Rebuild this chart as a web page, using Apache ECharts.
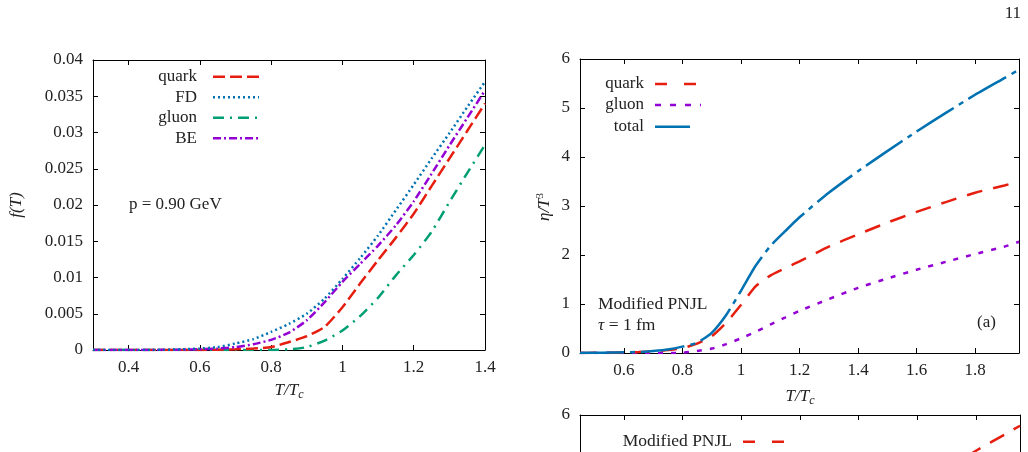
<!DOCTYPE html>
<html>
<head>
<meta charset="utf-8">
<script src="https://cdn.jsdelivr.net/npm/echarts@6/dist/echarts.min.js"></script>
<style>
html,body{margin:0;padding:0;background:#fff;}
#chart{width:1028px;height:452px;}
</style>
</head>
<body>
<div id="chart"></div>
<script>
// left panel: f(T) at p = 0.90 GeV
var tL     = [0.3,0.4,0.5,0.55,0.6,0.65,0.7,0.75,0.8,0.85,0.9,0.95,1.0,1.05,1.1,1.15,1.2,1.25,1.3,1.35,1.4];
var quarkL = [0,0,0,0,0,0.00003,0.0001,0.0002,0.0004,0.0011,0.0019,0.0032,0.0059,0.0092,0.0124,0.0155,0.0188,0.0226,0.0264,0.0302,0.034];
var fdL    = [0,0,0.00003,0.0001,0.0002,0.0004,0.0009,0.0015,0.0025,0.0036,0.005,0.0071,0.0098,0.0127,0.0158,0.0193,0.0228,0.0264,0.0299,0.0335,0.037];
var gluonL = [0,0,0,0,0,0,0,0,0,0.0001,0.0004,0.0013,0.0027,0.0047,0.0072,0.0103,0.0131,0.0163,0.0204,0.0244,0.0283];
var beL    = [0,0,0.00002,0.00005,0.0001,0.0002,0.0004,0.0008,0.0014,0.0024,0.0041,0.0066,0.0094,0.0119,0.0144,0.0172,0.0205,0.0243,0.0282,0.032,0.0358];
var ticksL = [0.4,0.6,0.8,1,1.2,1.4];

// right panel (a): eta/T^3
var tR     = [0.45,0.5,0.55,0.6,0.65,0.7,0.75,0.8,0.85,0.9,0.95,1.0,1.05,1.1,1.15,1.2,1.3,1.4,1.5,1.6,1.7,1.8,1.9,1.95];
var quarkR = [0,0.003,0.006,0.01,0.018,0.03,0.06,0.1,0.19,0.34,0.62,0.98,1.36,1.58,1.73,1.87,2.17,2.42,2.66,2.88,3.08,3.27,3.42,3.5];
var gluonR = [0,0,0,0,0,0,0,0.005,0.04,0.09,0.18,0.3,0.43,0.58,0.72,0.86,1.1,1.33,1.52,1.7,1.86,2.02,2.17,2.27];
var totalR = [0,0.005,0.01,0.015,0.02,0.04,0.07,0.13,0.21,0.41,0.78,1.27,1.78,2.18,2.48,2.77,3.27,3.71,4.12,4.52,4.9,5.27,5.61,5.78];
var ticksR = [0.6,0.8,1,1.2,1.4,1.6,1.8];

// lower panel, only its top strip is on the page; visible part follows the total curve
var pnjlB  = [0,0.005,0.01,0.015,0.02,0.04,0.07,0.13,0.21,0.41,0.78,1.27,1.78,2.18,2.48,2.77,3.27,3.71,4.12,4.52,4.9,5.27,5.61,5.78];

var FONT = 'Liberation Serif';
var TXT = '#222';

function pts(xs, ys){
  return xs.map(function(x, i){ return [x, ys[i]]; });
}

function xAx(grid, min, max, ticks, top, hideLine){
  return {
    type:'value', gridIndex:grid, min:min, max:max, position: top ? 'top' : 'bottom',
    axisLine:{show:!hideLine, onZero:false, lineStyle:{color:'#000', width:1}},
    axisTick:{show:!hideLine, inside:true, length:5, customValues:ticks, lineStyle:{color:'#000'}},
    axisLabel:{show:!top && !hideLine, customValues:ticks, margin:9, fontFamily:FONT, fontSize:17, color:TXT},
    splitLine:{show:false}
  };
}
function yAx(grid, min, max, ticks, right){
  return {
    type:'value', gridIndex:grid, min:min, max:max, position: right ? 'right' : 'left',
    axisLine:{show:true, onZero:false, lineStyle:{color:'#000', width:1}},
    axisTick:{show:true, inside:true, length:5, customValues:ticks, lineStyle:{color:'#000'}},
    axisLabel:{show:!right, customValues:ticks, margin:10, fontFamily:FONT, fontSize:17, color:TXT},
    splitLine:{show:false}
  };
}
function ln(xi, yi, data, color, dash){
  return {
    type:'line', xAxisIndex:xi, yAxisIndex:yi, data:data, symbol:'none',
    smooth:0.2,
    lineStyle:{color:color, width:2.5, type:dash}
  };
}
function txt(x, y, s, align, size){
  return {type:'text', x:x, y:y, style:{text:s, fill:TXT, font:(size||17)+'px "'+FONT+'"',
    textAlign:align||'left', textVerticalAlign:'middle'}};
}
function sample(x1, x2, y, color, dash){
  return {type:'line', shape:{x1:x1, y1:y, x2:x2, y2:y},
    style:{stroke:color, lineWidth:2.5, lineDash:dash}};
}

var RED = '#e51e10', BLUE = '#0072b2', GREEN = '#009e73', PURPLE = '#9400d3';
var yTicksL = [0,0.005,0.01,0.015,0.02,0.025,0.03,0.035,0.04];
var yTicksR = [0,1,2,3,4,5,6];
var TOTAL_DASH = [44,6,5,6];

var option = {
  animation:false,
  backgroundColor:'#fff',
  grid:[
    {left:93, top:60, width:392, height:290},
    {left:580, top:59, width:439, height:294},
    {left:580, top:415, width:440, height:37}
  ],
  xAxis:[
    xAx(0, 0.3, 1.4, ticksL, false), xAx(0, 0.3, 1.4, ticksL, true),
    xAx(1, 0.45, 1.95, ticksR, false), xAx(1, 0.45, 1.95, ticksR, true),
    xAx(2, 0.45, 1.95, ticksR, false, true), xAx(2, 0.45, 1.95, ticksR, true)
  ],
  yAxis:[
    yAx(0, 0, 0.04, yTicksL, false), yAx(0, 0, 0.04, yTicksL, true),
    yAx(1, 0, 6, yTicksR, false), yAx(1, 0, 6, yTicksR, true),
    yAx(2, 5.245, 6, [6], false), yAx(2, 5.245, 6, [6], true)
  ],
  series:[
    ln(0, 0, pts(tL, gluonL), GREEN, [11,6,2,6]),
    ln(0, 0, pts(tL, quarkL), RED, [12,5]),
    ln(0, 0, pts(tL, beL), PURPLE, [8,3,2,3]),
    ln(0, 0, pts(tL, fdL), BLUE, [2,3]),
    ln(2, 2, pts(tR, gluonR), PURPLE, [5,8]),
    ln(2, 2, pts(tR, quarkR), RED, [16,11]),
    ln(2, 2, pts(tR, totalR), BLUE, TOTAL_DASH),
    ln(4, 4, pts(tR, pnjlB), RED, [16,11])
  ],
  graphic:[
    // left legend
    txt(197, 76.7, 'quark', 'right'), sample(213, 259, 76.7, RED, [12,5]),
    txt(197, 97.3, 'FD', 'right'), sample(213, 259, 97.3, BLUE, [2,3]),
    txt(197, 117.7, 'gluon', 'right'), sample(213, 259, 117.7, GREEN, [11,6,2,6]),
    txt(197, 138.3, 'BE', 'right'), sample(213, 259, 138.3, PURPLE, [8,3,2,3]),
    txt(129, 205, 'p = 0.90 GeV', 'left'),
    // right legend
    txt(644, 84, 'quark', 'right'), sample(655, 696, 84, RED, [12,17]),
    txt(644, 105, 'gluon', 'right'), sample(655, 701, 105, PURPLE, [6,9]),
    txt(644, 126.7, 'total', 'right'), sample(655, 690, 126.7, BLUE, TOTAL_DASH),
    txt(598, 304, 'Modified PNJL', 'left', 17.5),
    {type:'text', x:598, y:325, style:{text:'{i|τ} = 1 fm', textAlign:'left', textVerticalAlign:'middle',
      font:'17.5px "'+FONT+'"', fill:TXT,
      rich:{i:{fontFamily:FONT, fontStyle:'italic', fontSize:17.5, fill:TXT}}}},
    txt(977, 323, '(a)', 'left'),
    // lower panel legend
    txt(732, 441.7, 'Modified PNJL', 'right', 17.5), sample(743, 785, 441.7, RED, [12,17]),
    // page number
    txt(1021, 14, '11', 'right'),
    // axis titles
    {type:'text', x:289, y:391, style:{text:'{i|T/T}{s|c}', textAlign:'center', textVerticalAlign:'middle',
      rich:{i:{fontFamily:FONT, fontStyle:'italic', fontSize:17, lineHeight:20, fill:TXT},
            s:{fontFamily:FONT, fontStyle:'italic', fontSize:12, lineHeight:9, verticalAlign:'bottom', fill:TXT}}}},
    {type:'text', x:800, y:397, style:{text:'{i|T/T}{s|c}', textAlign:'center', textVerticalAlign:'middle',
      rich:{i:{fontFamily:FONT, fontStyle:'italic', fontSize:17, lineHeight:20, fill:TXT},
            s:{fontFamily:FONT, fontStyle:'italic', fontSize:12, lineHeight:9, verticalAlign:'bottom', fill:TXT}}}},
    {type:'text', x:17, y:205, rotation:Math.PI/2, style:{text:'f(T)', fill:TXT,
      font:'italic 17px "'+FONT+'"', textAlign:'center', textVerticalAlign:'middle'}},
    {type:'text', x:545, y:207, rotation:Math.PI/2, style:{text:'{i|η/T}{s|3}', textAlign:'center', textVerticalAlign:'middle',
      rich:{i:{fontFamily:FONT, fontStyle:'italic', fontSize:17, lineHeight:20, fill:TXT},
            s:{fontFamily:FONT, fontSize:11, lineHeight:9, verticalAlign:'top', fill:TXT}}}}
  ]
};

var chart = echarts.init(document.getElementById('chart'));
chart.setOption(option);
</script>
</body>
</html>
